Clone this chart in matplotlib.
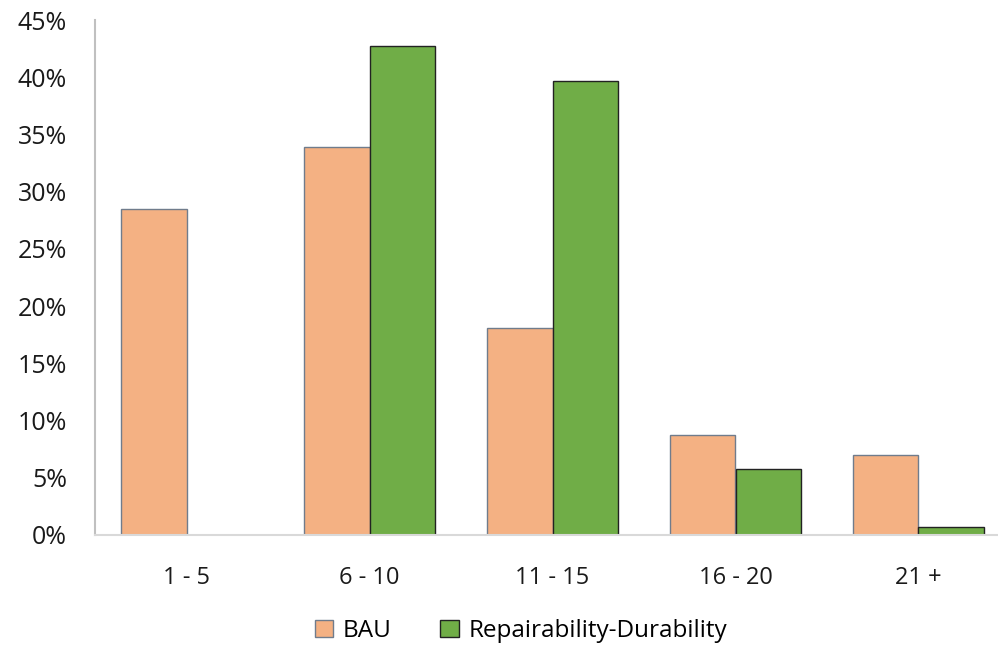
import matplotlib.pyplot as plt
import numpy as np
from matplotlib.patches import Patch
from matplotlib.ticker import FuncFormatter

# Share of products by lifetime band (years), two scenarios
categories = ["1 - 5", "6 - 10", "11 - 15", "16 - 20", "21 +"]
bau = [28.5, 33.9, 18.1, 8.7, 7.0]
repair = [0.0, 42.7, 39.7, 5.8, 0.7]

plt.rcParams['font.family'] = ['Open Sans', 'DejaVu Sans']

fig = plt.figure(figsize=(9.98, 6.46), dpi=100)
ax = fig.add_axes([95/998, 111/646, 915/998, 515/646])

bau_col, bau_edge = "#F4B183", "#707c8c"
rep_col, rep_edge = "#70AD47", "#222222"

x = np.arange(len(categories))
w = 0.36
ax.bar(x - w/2, bau, w, color=bau_col, edgecolor=bau_edge, linewidth=1.0)
repair_bars = ax.bar(x + w/2, repair, w, color=rep_col, edgecolor=rep_edge, linewidth=1.0)
# no visible bar where the value is zero
for b, v in zip(repair_bars, repair):
    if v == 0:
        b.set_visible(False)

ax.set_xlim(-0.5, len(categories) - 0.5)
ax.set_ylim(0, 45)
ax.set_yticks(np.arange(0, 46, 5))
ax.yaxis.set_major_formatter(FuncFormatter(lambda v, p: f"{v:.0f}%"))
ax.set_xticks(x)
ax.set_xticklabels(categories)
ax.tick_params(axis='y', length=0, pad=20, labelsize=18, labelcolor="#1a1a1a")
ax.tick_params(axis='x', length=0, pad=22, labelsize=17, labelcolor="#1a1a1a")

for s in ["top", "right"]:
    ax.spines[s].set_visible(False)
ax.spines["left"].set_color("#c0c0c0")
ax.spines["left"].set_linewidth(1.5)
ax.spines["bottom"].set_color("#d9d9d9")
ax.spines["bottom"].set_linewidth(1.5)

handles = [Patch(facecolor=bau_col, edgecolor=bau_edge, label="BAU"),
           Patch(facecolor=rep_col, edgecolor=rep_edge, label="Repairability-Durability")]
fig.legend(handles=handles, loc="center", bbox_to_anchor=(521/998, 1 - 631/646), ncol=2,
           frameon=False, fontsize=17.5, handlelength=0.75, handleheight=0.75,
           handletextpad=0.4, columnspacing=2.0)

fig.savefig("out.png", dpi=100)
